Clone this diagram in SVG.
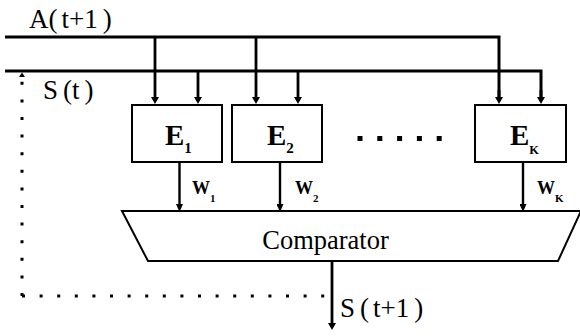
<svg xmlns="http://www.w3.org/2000/svg" width="580" height="336" viewBox="0 0 580 336">
  <style>
    .bus { fill: none; stroke: #000; stroke-width: 3; }
    .drop { fill: none; stroke: #000; stroke-width: 2.8; marker-end: url(#head); }
    .out { fill: none; stroke: #000; stroke-width: 2.4; marker-end: url(#headSmall); }
    .box { fill: #fff; stroke: #000; stroke-width: 2; }
    .dotted { fill: none; stroke: #000; stroke-width: 3; stroke-dasharray: 3 14.6; }
    text { font-family: 'Liberation Serif', 'DejaVu Serif', serif; fill: #000; }
    .lbl { font-size: 27px; }
    .cmp { font-size: 26.5px; }
    .e { font-weight: bold; font-size: 29px; }
    .esub { font-size: 15px; }
    .ksub { font-size: 12.5px; }
    .w { font-weight: bold; font-size: 18px; }
    .wsub { font-size: 11px; }
  </style>
  <defs>
    <marker id="head" markerUnits="userSpaceOnUse" markerWidth="8" markerHeight="8" refX="4" refY="4" orient="auto">
      <path d="M0,0 L7,4 L0,8 z" fill="#000"/>
    </marker>
    <marker id="headSmall" markerUnits="userSpaceOnUse" markerWidth="8" markerHeight="7" refX="4" refY="3.5" orient="auto">
      <path d="M0,0 L8,3.5 L0,7 z" fill="#000"/>
    </marker>
  </defs>

  <rect width="580" height="336" fill="#fff"/>

  <!-- connectors: input buses, drops, outputs and feedback -->
  <g id="connectors">
    <!-- A(t+1) bus -->
    <path class="bus" d="M5,37 H499 V98"/>
    <path class="drop" d="M155,37 V101"/>
    <path class="drop" d="M256,37 V101"/>
    <path class="drop" d="M499,90 V101"/>
    <!-- S(t) bus -->
    <path class="bus" d="M5,71 H541 V98"/>
    <path class="drop" d="M198,71 V101"/>
    <path class="drop" d="M298,71 V101"/>
    <path class="drop" d="M541,90 V101"/>
    <!-- weights into the comparator -->
    <path class="out" d="M179.5,163 V208"/>
    <path class="out" d="M280,163 V208"/>
    <path class="out" d="M523,163 V208"/>
    <!-- comparator output -->
    <path class="drop" d="M332,261 V327"/>
    <!-- feedback S(t+1) -> S(t) -->
    <path class="dotted" d="M22,296 V80"/>
    <path class="dotted" d="M22,296 H326"/>
    <polygon points="19,77 25,77 22,72.5" fill="#000"/>
  </g>

  <g id="label-a">
    <text class="lbl" x="29" y="28" font-family="Liberation Serif, serif">A(<tspan dx="4">t+1</tspan><tspan dx="5">)</tspan></text>
  </g>
  <g id="label-s">
    <text class="lbl" x="43" y="99"><tspan>S</tspan><tspan dx="5">(</tspan>t<tspan dx="5">)</tspan></text>
  </g>

  <g id="e1">
    <rect class="box" x="132" y="105" width="90" height="57"/>
    <text class="e" x="165" y="145">E<tspan class="esub" dy="8">1</tspan></text>
  </g>
  <g id="e2">
    <rect class="box" x="232" y="105" width="90" height="57"/>
    <text class="e" x="267" y="145">E<tspan class="esub" dy="8">2</tspan></text>
  </g>
  <g id="ellipsis">
    <path d="M357.5,138.5 H443" fill="none" stroke="#000" stroke-width="5" stroke-dasharray="5 14.8"/>
  </g>
  <g id="ek">
    <rect class="box" x="475" y="105" width="91" height="57"/>
    <text class="e" x="510" y="145">E<tspan class="ksub" dy="9">K</tspan></text>
  </g>

  <g id="weights">
    <text class="w" x="192" y="194">W<tspan class="wsub" dy="8">1</tspan></text>
    <text class="w" x="295" y="194">W<tspan class="wsub" dy="8">2</tspan></text>
    <text class="w" x="537" y="194">W<tspan class="wsub" dy="8">K</tspan></text>
  </g>

  <g id="comparator">
    <polygon class="box" points="122,211 581,211 558,261 148,261"/>
    <text class="cmp" x="325.5" y="248.5" text-anchor="middle">Comparator</text>
  </g>

  <g id="label-s-next">
    <text class="lbl" x="340" y="317"><tspan>S</tspan><tspan dx="5">(</tspan><tspan dx="4">t+1</tspan><tspan dx="5">)</tspan></text>
  </g>
</svg>
